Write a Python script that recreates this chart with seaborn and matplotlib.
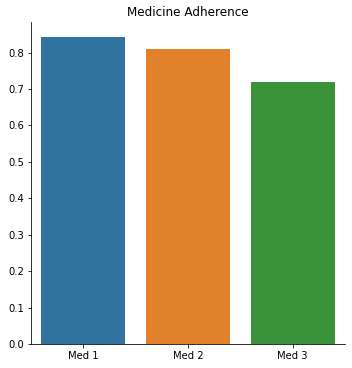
import pandas as pd
import matplotlib
matplotlib.use("Agg")
import matplotlib.pyplot as plt
import seaborn as sns

medicines = ["Med 1", "Med 2", "Med 3"]
adherence = [0.842, 0.809, 0.718]

df = pd.DataFrame({"Medicine": medicines, "Adherence": adherence})

fig = plt.figure(figsize=(352 / 72, 368 / 72), dpi=72)
ax = fig.add_axes([31 / 352, 1 - 344 / 368, (345 - 31) / 352, (344 - 22) / 368])

sns.barplot(data=df, x="Medicine", y="Adherence", hue="Medicine",
            palette="tab10", saturation=0.75, legend=False, ax=ax)
ax.set_title("Medicine Adherence")
ax.set_xlabel("")
ax.set_ylabel("")
sns.despine(ax=ax)

fig.savefig("out.png", dpi=72)
